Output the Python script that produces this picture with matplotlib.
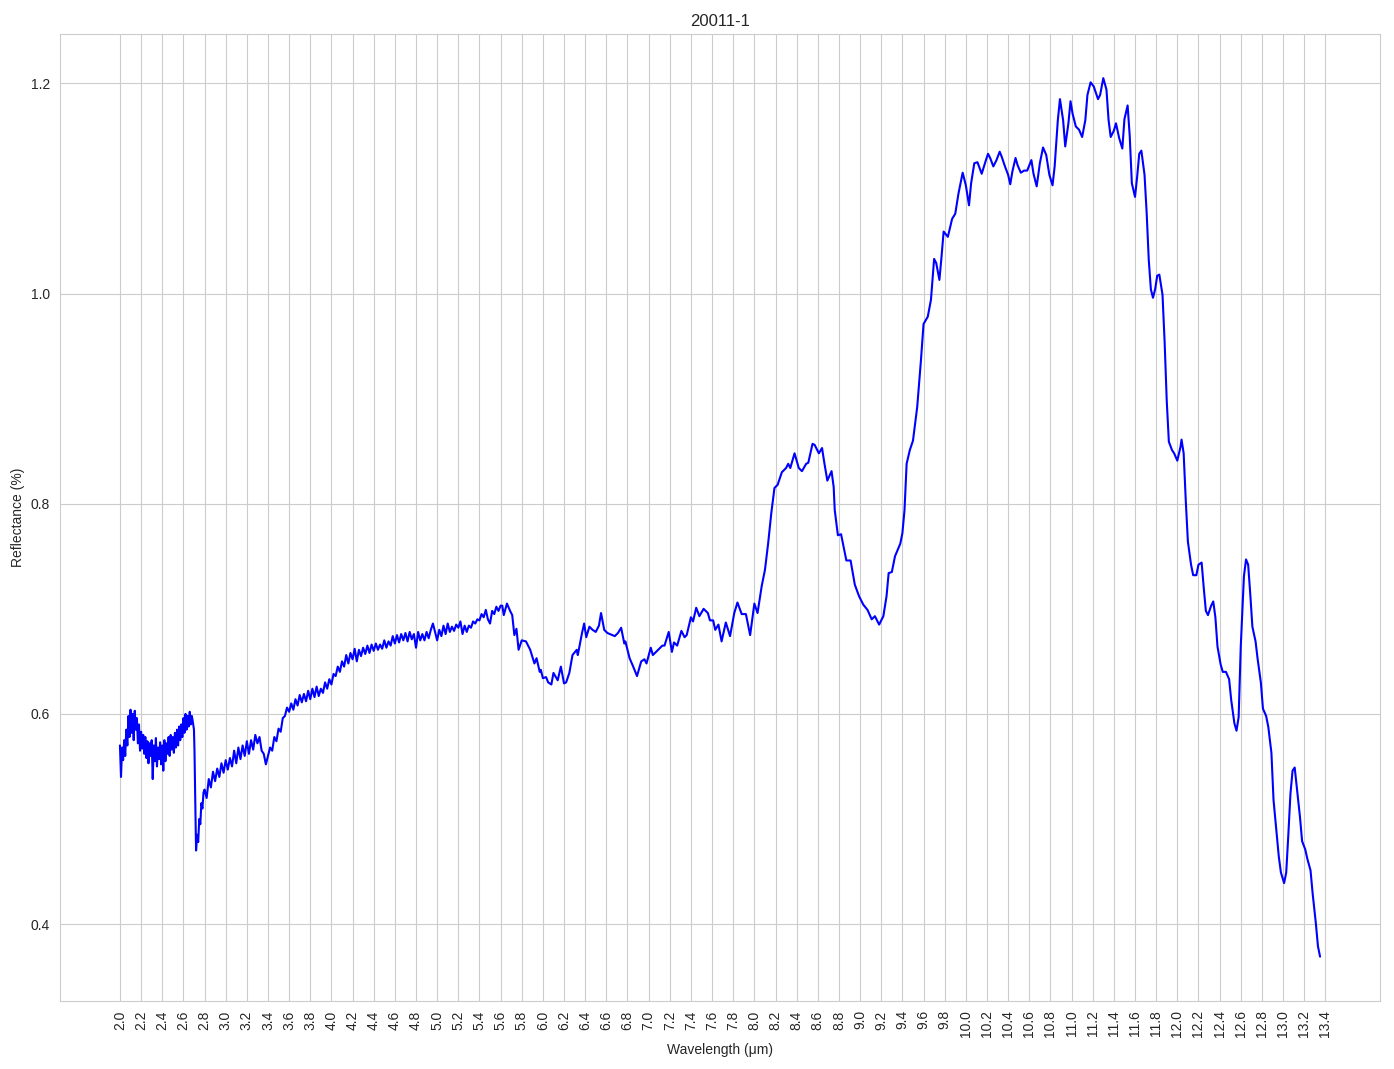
import numpy as np
import seaborn as sns
from matplotlib import pyplot as plt

# noisy part of the spectrum, evenly sampled
wl_a = np.round(np.arange(2.00, 2.695, 0.01), 3)
refl_a = [0.570, 0.540, 0.568, 0.556, 0.575, 0.560, 0.585, 0.570, 0.598, 0.578,
          0.604, 0.582, 0.600, 0.575, 0.603, 0.585, 0.596, 0.572, 0.590, 0.565,
          0.583, 0.567, 0.580, 0.562, 0.578, 0.558, 0.574, 0.553, 0.572, 0.560,
          0.575, 0.538, 0.570, 0.555, 0.577, 0.550, 0.568, 0.557, 0.573, 0.552,
          0.570, 0.546, 0.575, 0.555, 0.572, 0.562, 0.578, 0.560, 0.580, 0.566,
          0.578, 0.563, 0.582, 0.568, 0.585, 0.570, 0.588, 0.575, 0.590, 0.578,
          0.596, 0.582, 0.600, 0.585, 0.598, 0.588, 0.602, 0.590, 0.598, 0.592]

wl_drop = [2.700, 2.705, 2.710, 2.715, 2.720, 2.730, 2.740, 2.750, 2.760, 2.770, 2.780, 2.790]
refl_drop = [0.585, 0.565, 0.530, 0.500, 0.470, 0.485, 0.478, 0.500, 0.495, 0.515, 0.510, 0.525]

wl_b = np.round(np.arange(2.80, 3.605, 0.02), 3)
refl_b = [0.528, 0.520, 0.538, 0.530, 0.545, 0.536, 0.548, 0.540, 0.553, 0.544,
          0.556, 0.547, 0.558, 0.550, 0.565, 0.553, 0.568, 0.557, 0.570, 0.560,
          0.574, 0.562, 0.575, 0.566, 0.580, 0.572, 0.578, 0.565, 0.562, 0.552,
          0.560, 0.568, 0.565, 0.578, 0.574, 0.586, 0.583, 0.596, 0.598, 0.606,
          0.602]

wl_c = np.round(np.arange(3.62, 5.585, 0.02), 3)
refl_c = [0.610, 0.604, 0.614, 0.608, 0.618, 0.611, 0.619, 0.612, 0.622, 0.614,
          0.624, 0.616, 0.626, 0.617, 0.624, 0.620, 0.630, 0.624, 0.633, 0.628,
          0.638, 0.636, 0.645, 0.640, 0.650, 0.645, 0.656, 0.648, 0.658, 0.652,
          0.662, 0.650, 0.661, 0.655, 0.663, 0.657, 0.665, 0.658, 0.666, 0.660,
          0.667, 0.661, 0.666, 0.662, 0.670, 0.663, 0.669, 0.665, 0.674, 0.667,
          0.675, 0.668, 0.676, 0.670, 0.677, 0.669, 0.678, 0.671, 0.676, 0.663,
          0.678, 0.670, 0.676, 0.670, 0.678, 0.672, 0.680, 0.686, 0.678, 0.670,
          0.680, 0.674, 0.684, 0.676, 0.686, 0.678, 0.683, 0.679, 0.685, 0.682,
          0.688, 0.676, 0.684, 0.678, 0.684, 0.682, 0.688, 0.686, 0.690, 0.689,
          0.695, 0.692, 0.699, 0.690, 0.686, 0.698, 0.695, 0.702, 0.698]

# smooth part, read point by point
wl_d = [5.60, 5.616, 5.63, 5.66, 5.69, 5.71, 5.73, 5.75, 5.77, 5.80, 5.84, 5.88, 5.92, 5.94,
        5.97, 5.98, 6.00, 6.03, 6.05, 6.08, 6.10, 6.14, 6.17, 6.20, 6.22, 6.25, 6.28, 6.32,
        6.33, 6.37, 6.39, 6.41, 6.44, 6.47, 6.50, 6.53, 6.55, 6.58, 6.61, 6.68, 6.71, 6.74,
        6.77, 6.78, 6.82, 6.85, 6.89, 6.93, 6.96, 6.98, 7.02, 7.04, 7.08, 7.13, 7.15, 7.19,
        7.22, 7.24, 7.27, 7.31, 7.34, 7.36, 7.40, 7.42, 7.45, 7.48, 7.52, 7.56, 7.58, 7.61,
        7.63, 7.66, 7.69, 7.73, 7.77, 7.81, 7.84, 7.88, 7.92, 7.96, 8.00, 8.03, 8.07, 8.10,
        8.13, 8.16, 8.19, 8.22, 8.26, 8.30, 8.32, 8.34, 8.38, 8.42, 8.45, 8.49, 8.51, 8.55,
        8.57, 8.61, 8.64, 8.66, 8.69, 8.73, 8.75, 8.76, 8.79, 8.82, 8.85, 8.87, 8.91, 8.95,
        8.99, 9.03, 9.07, 9.11, 9.14, 9.18, 9.22, 9.25, 9.27, 9.30, 9.33, 9.38, 9.40, 9.42,
        9.44, 9.47, 9.50, 9.54, 9.575, 9.60, 9.64, 9.67, 9.70, 9.72, 9.75, 9.77, 9.79, 9.83,
        9.87, 9.90, 9.93, 9.97, 10.00, 10.03, 10.05, 10.08, 10.11, 10.15, 10.19, 10.21,
        10.23, 10.26, 10.29, 10.32, 10.34, 10.37, 10.40, 10.42, 10.44, 10.47, 10.49, 10.52,
        10.55, 10.58, 10.62, 10.64, 10.67, 10.70, 10.73, 10.76, 10.79, 10.82, 10.84, 10.87,
        10.89, 10.92, 10.94, 10.97, 10.99, 11.01, 11.04, 11.07, 11.10, 11.13, 11.15, 11.18,
        11.21, 11.25, 11.27, 11.30, 11.33, 11.35, 11.37, 11.40, 11.42, 11.45, 11.48, 11.50,
        11.53, 11.55, 11.57, 11.60, 11.62, 11.64, 11.66, 11.69, 11.71, 11.73, 11.75, 11.77,
        11.79, 11.81, 11.83, 11.86, 11.88, 11.90, 11.92, 11.95, 11.97, 12.00, 12.03, 12.04,
        12.06, 12.08, 12.10, 12.13, 12.15, 12.18, 12.20, 12.23, 12.25, 12.27, 12.29, 12.32,
        12.34, 12.36, 12.38, 12.41, 12.43, 12.46, 12.49, 12.51, 12.54, 12.56, 12.58, 12.60,
        12.63, 12.65, 12.67, 12.69, 12.71, 12.74, 12.76, 12.79, 12.81, 12.84, 12.86, 12.89,
        12.91, 12.94, 12.96, 12.98, 13.01, 13.03, 13.05, 13.07, 13.09, 13.11, 13.13, 13.16,
        13.18, 13.21, 13.23, 13.26, 13.28, 13.31, 13.33, 13.35]
refl_d = [0.703, 0.703, 0.694, 0.705, 0.698, 0.694, 0.675, 0.681, 0.661, 0.670, 0.669, 0.661, 0.648, 0.653,
          0.640, 0.642, 0.634, 0.635, 0.630, 0.628, 0.639, 0.632, 0.645, 0.629, 0.630, 0.639, 0.656, 0.661,
          0.656, 0.677, 0.686, 0.673, 0.683, 0.680, 0.678, 0.684, 0.696, 0.680, 0.677, 0.674, 0.677, 0.682,
          0.667, 0.669, 0.653, 0.646, 0.636, 0.650, 0.652, 0.648, 0.663, 0.656, 0.660, 0.665, 0.665, 0.678,
          0.659, 0.668, 0.665, 0.679, 0.673, 0.675, 0.692, 0.688, 0.701, 0.693, 0.700, 0.696, 0.689, 0.689,
          0.680, 0.685, 0.669, 0.687, 0.674, 0.696, 0.706, 0.695, 0.695, 0.675, 0.705, 0.696, 0.722, 0.737,
          0.762, 0.791, 0.815, 0.818, 0.830, 0.834, 0.838, 0.834, 0.848, 0.834, 0.831, 0.838, 0.839, 0.857,
          0.856, 0.848, 0.853, 0.840, 0.822, 0.831, 0.816, 0.794, 0.770, 0.771, 0.756, 0.746, 0.746, 0.723,
          0.712, 0.704, 0.699, 0.690, 0.693, 0.685, 0.693, 0.712, 0.734, 0.735, 0.750, 0.762, 0.772, 0.794,
          0.838, 0.851, 0.860, 0.892, 0.936, 0.971, 0.978, 0.994, 1.033, 1.029, 1.013, 1.035, 1.059, 1.054,
          1.071, 1.076, 1.095, 1.115, 1.103, 1.084, 1.105, 1.124, 1.125, 1.114, 1.127, 1.133,
          1.129, 1.121, 1.127, 1.135, 1.130, 1.121, 1.113, 1.104, 1.116, 1.129, 1.122, 1.115,
          1.117, 1.117, 1.127, 1.114, 1.102, 1.124, 1.139, 1.132, 1.113, 1.103, 1.121, 1.165,
          1.185, 1.165, 1.140, 1.162, 1.183, 1.171, 1.159, 1.156, 1.149, 1.165, 1.189, 1.201,
          1.197, 1.185, 1.189, 1.205, 1.194, 1.165, 1.149, 1.155, 1.162, 1.148, 1.138, 1.166,
          1.179, 1.150, 1.105, 1.092, 1.111, 1.133, 1.136, 1.113, 1.077, 1.032, 1.004, 0.996,
          1.004, 1.017, 1.018, 0.999, 0.954, 0.898, 0.859, 0.851, 0.848, 0.841, 0.854, 0.861,
          0.848, 0.803, 0.764, 0.742, 0.732, 0.732, 0.742, 0.744, 0.720, 0.698, 0.694, 0.703,
          0.707, 0.692, 0.664, 0.647, 0.640, 0.640, 0.633, 0.613, 0.591, 0.584, 0.597, 0.664,
          0.731, 0.747, 0.742, 0.714, 0.683, 0.669, 0.652, 0.630, 0.605, 0.598, 0.588, 0.563,
          0.518, 0.485, 0.464, 0.449, 0.439, 0.449, 0.485, 0.524, 0.546, 0.549, 0.530, 0.502,
          0.479, 0.471, 0.462, 0.451, 0.429, 0.401, 0.379, 0.369]

wavelength = np.concatenate([wl_a, wl_drop, wl_b, wl_c, wl_d])
reflectance = np.concatenate([refl_a, refl_drop, refl_b, refl_c, refl_d])

xticks = np.round(np.arange(2.0, 13.41, 0.2), 1)

sns.set_style("whitegrid")
plt.rcParams['font.family'] = ['Liberation Sans', 'DejaVu Sans']

fig, ax = plt.subplots(figsize=(13.94, 10.69), dpi=100)
ax.plot(wavelength, reflectance, color="blue", linewidth=1.5)
ax.set_title("20011-1", fontsize=12)
ax.set_xlabel("Wavelength (μm)")
ax.set_ylabel("Reflectance (%)")
ax.set_xticks(xticks)
ax.set_xticklabels([f"{t:.1f}" for t in xticks], rotation=90)
ax.set_yticks([0.4, 0.6, 0.8, 1.0, 1.2])
fig.subplots_adjust(left=0.043, right=0.99, top=0.968, bottom=0.064)
fig.savefig("out.png")
